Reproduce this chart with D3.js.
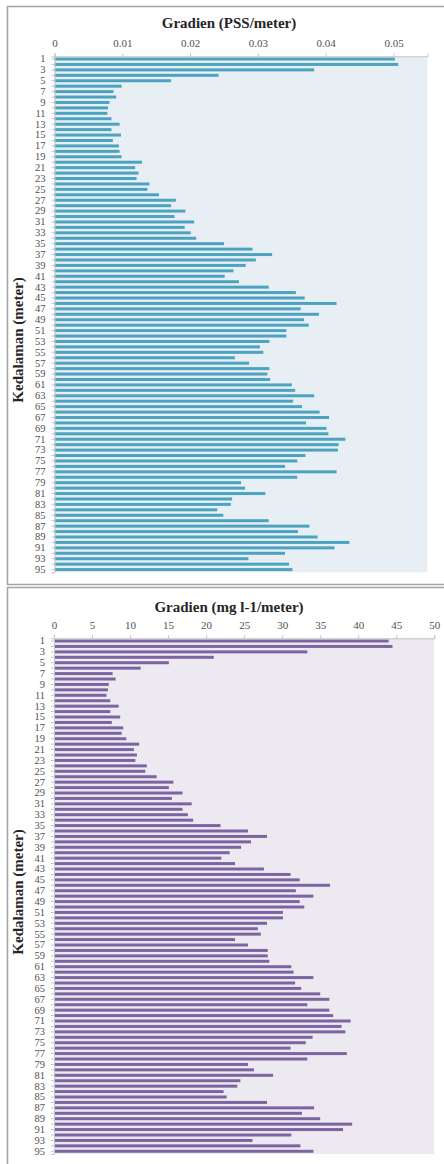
<!DOCTYPE html>
<html>
  <head>
    <script src="https://d3js.org/d3.v7.min.js"></script>
    <title>Gradien PSS dan Oksigen</title>
    <style>
      body { margin: 0; background: #fff; }
      text { font-family: "Liberation Serif", "Times New Roman", serif; }
    </style>
  </head>
  <body>
  <svg width="444" height="1164"></svg>

  <script>

      // depth categories (meter)
      var depths = d3.range(1, 96);

      // salinity gradient (PSS/meter), one value per depth
      var pssGradient = [
        0.0502, 0.0507, 0.0383, 0.0242, 0.0172, 0.0099, 0.0087, 0.0091, 0.0081, 0.0079,
        0.0078, 0.0084, 0.0096, 0.0084, 0.0098, 0.0086, 0.0095, 0.0096, 0.0099, 0.0129,
        0.0119, 0.0124, 0.0121, 0.0140, 0.0137, 0.0154, 0.0179, 0.0172, 0.0193, 0.0177,
        0.0206, 0.0192, 0.0201, 0.0209, 0.0250, 0.0292, 0.0321, 0.0297, 0.0282, 0.0264,
        0.0251, 0.0272, 0.0316, 0.0356, 0.0369, 0.0416, 0.0363, 0.0390, 0.0368, 0.0375,
        0.0342, 0.0342, 0.0317, 0.0303, 0.0308, 0.0266, 0.0287, 0.0317, 0.0314, 0.0318,
        0.0350, 0.0355, 0.0383, 0.0352, 0.0365, 0.0391, 0.0405, 0.0371, 0.0401, 0.0404,
        0.0429, 0.0419, 0.0418, 0.0370, 0.0358, 0.0340, 0.0416, 0.0358, 0.0275, 0.0281,
        0.0311, 0.0262, 0.0260, 0.0240, 0.0249, 0.0316, 0.0376, 0.0359, 0.0388, 0.0435,
        0.0413, 0.0340, 0.0286, 0.0346, 0.0351
      ];

      // oxygen gradient (mg l-1/meter), one value per depth
      var oxyGradient = [
        44.0, 44.5, 33.3, 21.0, 15.1, 11.4, 7.7, 8.1, 7.2, 7.1,
        6.9, 7.4, 8.5, 7.4, 8.7, 7.6, 9.1, 8.9, 9.5, 11.2,
        10.5, 10.9, 10.7, 12.2, 12.0, 13.5, 15.7, 15.1, 16.9, 15.5,
        18.1, 16.9, 17.6, 18.3, 21.9, 25.5, 28.0, 25.9, 24.6, 23.1,
        22.0, 23.8, 27.6, 31.1, 32.3, 36.3, 31.8, 34.1, 32.3, 32.9,
        30.1, 30.1, 28.0, 26.8, 27.2, 23.8, 25.5, 28.1, 28.1, 28.3,
        31.2, 31.5, 34.1, 31.7, 32.5, 35.0, 36.2, 33.3, 36.2, 36.7,
        39.0, 37.8, 38.3, 34.0, 33.1, 31.1, 38.5, 33.3, 25.5, 26.3,
        28.8, 24.5, 24.1, 22.3, 22.7, 28.0, 34.2, 32.6, 35.0, 39.2,
        38.0, 31.2, 26.1, 32.4, 34.1
      ];

      var pssTicks = [0, 0.01, 0.02, 0.03, 0.04, 0.05];
      var pssTickLabels = ["0", "0.01", "0.02", "0.03", "0.04", "0.05"];
      var oxyTicks = [0, 5, 10, 15, 20, 25, 30, 35, 40, 45, 50];

      var svg = d3.select("svg");

      function drawChart(opt) {
        var g = svg.append("g");

        // outer chart frame
        g.append("rect")
          .attr("x", 7.5)
          .attr("y", opt.frameTop)
          .attr("width", 460)
          .attr("height", opt.frameHeight)
          .attr("fill", "#fff")
          .attr("stroke", "#a3a3a3")
          .attr("stroke-width", 1.5);

        var xScale = d3.scaleLinear()
          .domain([0, opt.max])
          .range([opt.left, opt.right]);

        var yScale = d3.scaleBand()
          .domain(depths)
          .range([opt.top, opt.bottom])
          .paddingInner(0.45)
          .paddingOuter(0.225);

        // plot area
        g.append("rect")
          .attr("x", opt.left)
          .attr("y", opt.top)
          .attr("width", opt.right - opt.left)
          .attr("height", opt.bottom - opt.top)
          .attr("fill", opt.bg);

        g.append("g")
          .selectAll("rect")
          .data(opt.values)
          .enter().append("rect")
          .attr("x", opt.left)
          .attr("y", (d, i) => yScale(depths[i]))
          .attr("width", d => xScale(d) - opt.left)
          .attr("height", yScale.bandwidth())
          .attr("fill", opt.color);

        var xAxis = d3.axisTop(xScale)
          .tickValues(opt.ticks)
          .tickFormat((d, i) => opt.tickLabels[i])
          .tickSize(3)
          .tickPadding(6);

        var ax = g.append("g")
          .attr("transform", `translate(0, ${opt.top})`)
          .call(xAxis);
        ax.select(".domain").attr("stroke", "#c4c4c4");
        ax.selectAll(".tick line").attr("stroke", "#c4c4c4");
        ax.selectAll(".tick text")
          .attr("fill", "#505050")
          .style("font-size", "11px")
          .style("font-family", "'Liberation Serif', serif");

        var yAxis = d3.axisLeft(yScale)
          .tickFormat(d => d % 2 === 1 ? d : "")
          .tickSize(3)
          .tickPadding(6);

        var ay = g.append("g")
          .attr("transform", `translate(${opt.left}, 0)`)
          .call(yAxis);
        ay.select(".domain").attr("stroke", "#c4c4c4");
        ay.selectAll(".tick line").attr("stroke", "#c4c4c4");
        ay.selectAll(".tick text")
          .attr("fill", "#505050")
          .style("font-size", "10.5px")
          .style("font-family", "'Liberation Serif', serif");

        g.append("text")
          .attr("x", 229)
          .attr("y", opt.titleY)
          .style("text-anchor", "middle")
          .style("font-size", "15px")
          .style("font-weight", "bold")
          .attr("fill", "#262626")
          .text(opt.title);

        g.append("text")
          .attr("transform", `translate(23, ${opt.yTitleY}) rotate(-90)`)
          .style("text-anchor", "middle")
          .style("font-size", "15px")
          .style("font-weight", "bold")
          .attr("fill", "#262626")
          .text("Kedalaman (meter)");
      }

      drawChart({
        frameTop: 6.5, frameHeight: 578,
        left: 54.5, right: 427.4, top: 56.3, bottom: 572.3,
        max: 0.055,
        values: pssGradient,
        ticks: pssTicks, tickLabels: pssTickLabels,
        color: "#4ba3c0", bg: "#e8eff4",
        title: "Gradien (PSS/meter)", titleY: 27.5, yTitleY: 340
      });

      drawChart({
        frameTop: 587.5, frameHeight: 600,
        left: 54, right: 434.3, top: 638.3, bottom: 1154,
        max: 50,
        values: oxyGradient,
        ticks: oxyTicks, tickLabels: oxyTicks.map(String),
        color: "#7c63a1", bg: "#ece9f0",
        title: "Gradien (mg l-1/meter)", titleY: 611.5, yTitleY: 892
      });

  </script>
  </body>
</html>
